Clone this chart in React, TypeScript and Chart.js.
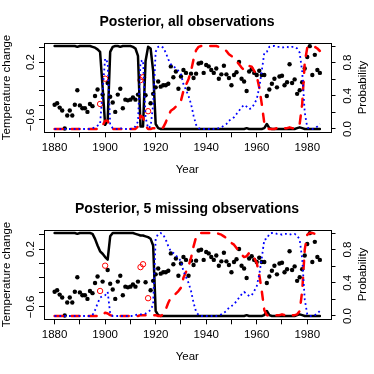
import React, { useEffect, useRef } from "react";
import { Chart, registerables } from "chart.js";

Chart.register(...registerables);

const FONT = "'Liberation Sans', Arial, Helvetica, sans-serif";

// ---------------- data ----------------
const startYear = 1880;
const years: number[] = Array.from({ length: 106 }, (_, i) => startYear + i);

const temps: number[] = [
  -0.39, -0.37, -0.43, -0.47, -0.72, -0.54, -0.47, -0.54, -0.39, -0.19,
  -0.40, -0.44, -0.44, -0.49, -0.38, -0.41, -0.27, -0.18, -0.38, -0.25,
  -0.03, -0.09, -0.28, -0.36, -0.49, -0.25, -0.17, -0.44, -0.32, -0.33,
  -0.32, -0.29, -0.32, -0.25, -0.05, -0.01, -0.26, -0.48, -0.37, -0.24,
  -0.15, -0.07, -0.14, -0.12, -0.12, -0.10, 0.14, -0.01, 0.07, -0.17,
  0.00, 0.09, 0.05, -0.17, 0.04, -0.02, 0.04, 0.18, 0.19, 0.05,
  0.16, 0.14, 0.09, 0.05, 0.11, -0.03, 0.03, 0.15, 0.03, -0.02,
  -0.12, 0.02, 0.06, 0.20, -0.03, -0.07, -0.20, 0.07, 0.10, 0.05,
  0.02, 0.08, 0.02, 0.02, -0.27, -0.18, -0.10, -0.03, -0.15, 0.00,
  0.01, -0.12, -0.08, 0.17, -0.09, -0.04, -0.24, -0.19, -0.08, 0.11,
  0.27, 0.42, 0.02, 0.30, 0.09, 0.05,
];

const missingYears: number[] = [1898, 1900, 1914, 1915, 1917];

// probabilities 1880-1919 (panel specific)
const blackAllHead: number[] = [
  1, 1, 1, 1, 1, 1, 1, 1, 1, 0.99,
  1, 1, 1, 1, 1, 0.99, 0.98, 0.96, 0.93, 0.5,
  0.05, 0.1, 0.93, 0.99, 1, 1, 0.99, 1, 1, 1,
  1, 0.99, 0.97, 0.88, 0.03, 0.03, 0.82, 0.99, 0.97, 0.7,
];
const redAllHead: number[] = [
  0, 0, 0, 0, 0, 0, 0, 0, 0, 0,
  0, 0, 0, 0, 0, 0, 0, 0, 0.01, 0.04,
  0.1, 0.1, 0.02, 0, 0, 0, 0, 0, 0, 0,
  0, 0, 0, 0.03, 0.16, 0.14, 0.04, 0, 0, 0.01,
];
const blueAllHead: number[] = [
  0, 0, 0, 0, 0, 0, 0, 0, 0, 0.01,
  0, 0, 0, 0, 0, 0.01, 0.02, 0.04, 0.06, 0.46,
  0.85, 0.8, 0.05, 0.01, 0, 0, 0.01, 0, 0, 0,
  0, 0.01, 0.03, 0.09, 0.81, 0.83, 0.14, 0.01, 0.03, 0.29,
];
const blackMissHead: number[] = [
  1, 1, 1, 1, 1, 1, 1, 1, 1, 0.99,
  1, 1, 1, 1, 1, 0.99, 0.93, 0.85, 0.78, 0.75,
  0.71, 0.68, 0.96, 1, 1, 1, 1, 1, 1, 1,
  1, 1, 0.99, 0.98, 0.97, 0.97, 0.96, 0.95, 0.93, 0.85,
];
const redMissHead: number[] = [
  0, 0, 0, 0, 0, 0, 0, 0, 0, 0,
  0, 0, 0, 0, 0, 0, 0, 0, 0, 0.01,
  0.04, 0.03, 0.01, 0, 0, 0, 0, 0, 0, 0,
  0, 0, 0, 0, 0.01, 0.01, 0.01, 0, 0, 0.01,
];
const blueMissHead: number[] = [
  0, 0, 0, 0, 0, 0, 0, 0, 0, 0.01,
  0, 0, 0, 0, 0, 0.01, 0.07, 0.15, 0.22, 0.24,
  0.25, 0.29, 0.03, 0, 0, 0, 0, 0, 0, 0,
  0, 0, 0.01, 0.02, 0.02, 0.02, 0.03, 0.05, 0.07, 0.14,
];

// probabilities 1920-1985 (shared by both panels)
const blackTail: number[] = [
  0.06, 0.01, 0, 0, 0, 0, 0, 0, 0, 0,
  0, 0, 0, 0, 0, 0, 0, 0, 0, 0,
  0, 0, 0, 0, 0, 0, 0, 0, 0, 0,
  0, 0, 0, 0, 0, 0, 0.01, 0, 0, 0,
  0, 0, 0, 0.01, 0.06, 0.01, 0, 0, 0, 0,
  0, 0, 0, 0, 0, 0, 0.01, 0.02, 0.01, 0,
  0, 0, 0, 0, 0, 0,
];
const redTail: number[] = [
  0.01, 0, 0, 0.02, 0.08, 0.16, 0.22, 0.24, 0.27, 0.3,
  0.34, 0.46, 0.53, 0.6, 0.7, 0.84, 0.95, 0.99, 1, 1,
  1, 1, 1, 1, 1, 0.99, 0.98, 0.96, 0.94, 0.9,
  0.88, 0.86, 0.82, 0.78, 0.74, 0.71, 0.72, 0.76, 0.75, 0.7,
  0.64, 0.5, 0.3, 0.07, 0.01, 0, 0, 0, 0.01, 0.01,
  0.02, 0.01, 0.01, 0.02, 0.01, 0.01, 0.02, 0.06, 0.3, 0.8,
  0.98, 1, 1, 0.99, 0.97, 0.94,
];
const blueTail: number[] = [
  0.93, 0.99, 1, 0.98, 0.92, 0.84, 0.78, 0.76, 0.73, 0.7,
  0.66, 0.54, 0.47, 0.4, 0.3, 0.16, 0.05, 0.01, 0, 0,
  0, 0, 0, 0, 0, 0.01, 0.02, 0.04, 0.06, 0.1,
  0.12, 0.14, 0.18, 0.22, 0.26, 0.29, 0.27, 0.24, 0.25, 0.3,
  0.36, 0.5, 0.7, 0.92, 0.93, 0.99, 1, 1, 0.99, 0.99,
  0.98, 0.99, 0.99, 0.98, 0.99, 0.99, 0.97, 0.92, 0.69, 0.2,
  0.02, 0, 0, 0.01, 0.03, 0.06,
];

const xTickStep = 10;
const xLabelEvery = 20;
const leftTicks: number[] = [-0.6, 0.2];
const rightTicks: number[] = [0, 0.4, 0.8];

const titles = ["Posterior, all observations", "Posterior, 5 missing observations"];

// ---------------- chart ----------------
const fmtTick = (v: number) => (v < 0 ? "\u2212" + Math.abs(v).toFixed(1) : v.toFixed(1));

const rPlugin = {
  id: "rStyle",
  afterDraw(chart: any) {
    const { ctx, chartArea: a, scales } = chart;
    ctx.save();
    ctx.strokeStyle = "#000";
    ctx.lineWidth = 1;
    const l = Math.round(a.left) + 0.5;
    const t = Math.round(a.top) + 0.5;
    const r = Math.round(a.right) + 0.5;
    const b = Math.round(a.bottom) + 0.5;
    ctx.strokeRect(l, t, r - l, b - t);
    ctx.fillStyle = "#000";
    ctx.font = `11.5px ${FONT}`;
    ctx.textAlign = "center";
    ctx.textBaseline = "alphabetic";
    const rot = (text: string, baseX: number, cy: number) => {
      ctx.save();
      ctx.translate(baseX, cy);
      ctx.rotate(-Math.PI / 2);
      ctx.fillText(text, 0, 0);
      ctx.restore();
    };
    leftTicks.forEach((v) => rot(fmtTick(v), 34.2, scales.y.getPixelForValue(v)));
    rightTicks.forEach((v) => rot(v.toFixed(1), 351.2, scales.y2.getPixelForValue(v)));
    const cy = (a.top + a.bottom) / 2;
    rot("Temperature change", 9.8, cy);
    rot("Probability", 366.3, cy);
    ctx.restore();
  },
};

function makeConfig(title: string, black: number[], red: number[], blue: number[]) {
  const obs = years
    .map((x, i) => ({ x, y: temps[i] }))
    .filter((p) => !missingYears.includes(p.x));
  const miss = years
    .map((x, i) => ({ x, y: temps[i] }))
    .filter((p) => missingYears.includes(p.x));
  const line = (arr: number[]) => years.map((x, i) => ({ x, y: arr[i] }));
  return {
    type: "scatter",
    data: {
      datasets: [
        {
          data: obs,
          yAxisID: "y",
          pointRadius: 2.2,
          pointBackgroundColor: "#000",
          pointBorderWidth: 0,
          showLine: false,
          order: 10,
        },
        {
          data: miss,
          yAxisID: "y",
          pointRadius: 2.7,
          pointBackgroundColor: "rgba(0,0,0,0)",
          pointBorderColor: "#ff0000",
          pointBorderWidth: 1,
          showLine: false,
          order: 9,
        },
        {
          data: line(black),
          yAxisID: "y2",
          showLine: true,
          pointRadius: 0,
          borderColor: "#000",
          borderWidth: 2.5,
          borderJoinStyle: "round",
          borderCapStyle: "round",
          tension: 0,
          order: 3,
        },
        {
          data: line(red),
          yAxisID: "y2",
          showLine: true,
          pointRadius: 0,
          borderColor: "#ff0000",
          borderWidth: 2.5,
          borderDash: [8, 9],
          borderJoinStyle: "round",
          borderCapStyle: "round",
          tension: 0,
          order: 2,
        },
        {
          data: line(blue),
          yAxisID: "y2",
          showLine: true,
          pointRadius: 0,
          borderColor: "#0000ff",
          borderWidth: 1.8,
          borderDash: [1.8, 3],
          borderCapStyle: "butt",
          tension: 0,
          order: 1,
        },
      ],
    },
    options: {
      animation: false,
      responsive: false,
      devicePixelRatio: 1,
      events: [],
      layout: { padding: 0 },
      plugins: {
        legend: { display: false },
        tooltip: { enabled: false },
        title: {
          display: true,
          text: title,
          color: "#000",
          font: { family: FONT, size: 14, weight: "bold" },
          padding: { top: 13.6, bottom: 12.3 },
        },
      },
      scales: {
        x: {
          type: "linear",
          position: "bottom",
          min: 1875.8,
          max: 1989.2,
          ticks: {
            stepSize: xTickStep,
            includeBounds: false,
            autoSkip: false,
            maxRotation: 0,
            minRotation: 0,
            color: "#000",
            padding: 3.3,
            font: { family: FONT, size: 11.5 },
            callback: (v: number) => ((v - startYear) % xLabelEvery === 0 ? String(v) : ""),
          },
          grid: { drawOnChartArea: false, drawTicks: true, tickLength: 5, color: "#000", lineWidth: 1 },
          border: { display: false },
          title: {
            display: true,
            text: "Year",
            color: "#000",
            font: { family: FONT, size: 11.5 },
            padding: { top: 0, bottom: 10.1 },
          },
          afterFit: (s: any) => {
            s.height = 54.7;
          },
        },
        y: {
          type: "linear",
          position: "left",
          min: -0.772,
          max: 0.468,
          ticks: { display: false, stepSize: 0.2, includeBounds: false },
          grid: { drawOnChartArea: false, drawTicks: true, tickLength: 5, color: "#000", lineWidth: 1 },
          border: { display: false },
          afterFit: (s: any) => {
            s.width = 44;
          },
        },
        y2: {
          type: "linear",
          position: "right",
          min: -0.04,
          max: 1.04,
          ticks: { display: false, stepSize: 0.2, includeBounds: false },
          grid: { drawOnChartArea: false, drawTicks: true, tickLength: 5, color: "#000", lineWidth: 1 },
          border: { display: false },
          afterFit: (s: any) => {
            s.width = 43.5;
          },
        },
      },
    },
    plugins: [rPlugin],
  };
}

function Panel(props: { title: string; black: number[]; red: number[]; blue: number[] }) {
  const ref = useRef<HTMLCanvasElement>(null);
  useEffect(() => {
    const chart = new Chart(ref.current as HTMLCanvasElement, makeConfig(props.title, props.black, props.red, props.blue) as any);
    return () => chart.destroy();
  }, []);
  return <canvas ref={ref} width={374} height={187} style={{ display: "block", width: 374, height: 187 }} />;
}

export default function App() {
  return (
    <div style={{ position: "absolute", left: 0, top: 0, width: 374, height: 374, background: "#fff" }}>
      <Panel title={titles[0]} black={blackAllHead.concat(blackTail)} red={redAllHead.concat(redTail)} blue={blueAllHead.concat(blueTail)} />
      <Panel title={titles[1]} black={blackMissHead.concat(blackTail)} red={redMissHead.concat(redTail)} blue={blueMissHead.concat(blueTail)} />
    </div>
  );
}
